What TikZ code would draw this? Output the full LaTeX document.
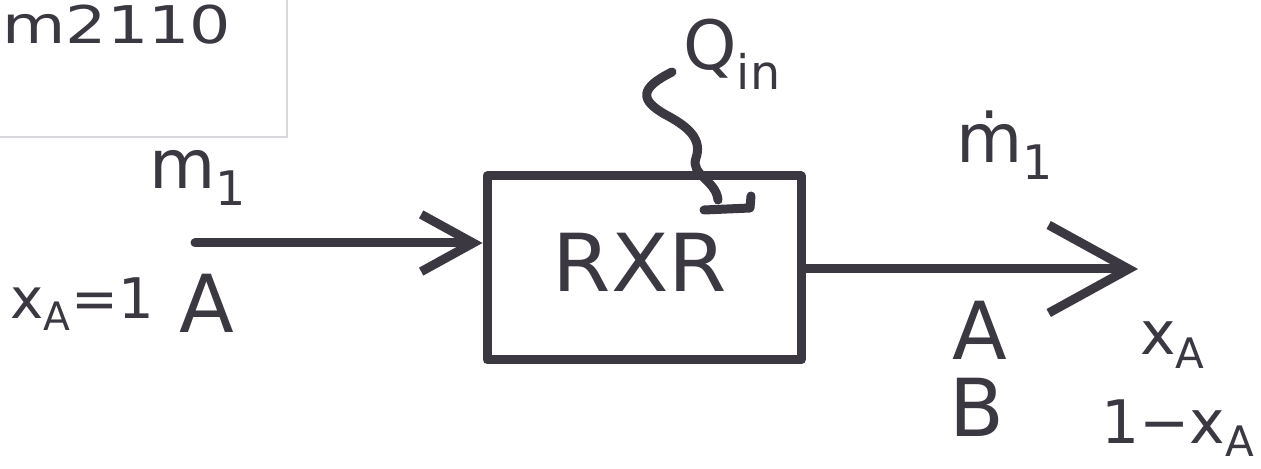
\documentclass[tikz,border=0pt]{standalone}
\usepackage{fontspec}
\setmainfont{DejaVu Sans}
\usetikzlibrary{arrows.meta}
\definecolor{ink}{HTML}{3B3842}
\definecolor{paper}{HTML}{D8D8DC}
\tikzset{
  marker/.style={draw=ink, line width=4.5pt, line cap=round, line join=round},
  flow/.style={marker, -{Straight Barb[length=#1, width=1.1*#1, line width=4.5pt]}},
  hand/.style={text=ink, inner sep=0pt, font=\fontsize{#1}{#1}\selectfont},
}
\begin{document}
\begin{tikzpicture}[x=0.5pt,y=-0.5pt]
\useasboundingbox (0,0) rectangle (1261,469);
% paper edge of the pasted note
\draw[paper, line width=0.6pt] (0,137) -- (287,137) -- (287,0);
\node[hand=26pt, xscale=1.25, anchor=west] (code) at (2,25) {m2110};
% reactor
\node[marker, minimum width=157pt, minimum height=92pt, inner sep=0pt] (rxr) at (644,268) {};
\node[hand=40pt, xscale=1.05] (rxrtxt) at (640,262) {RXR};
% inlet
\coordinate (in) at (195,243);
\draw[flow=26pt] (in) -- (in -| rxr.west);
\node[hand=34pt] (m1) at (198,178) {m\textsubscript{1}};
\node[hand=28pt] (xa1) at (82,304) {x\textsubscript{A}=1};
\node[hand=40pt] (Ain) at (207,303) {A};
% outlet
\coordinate (out) at (1138,269);
\draw[flow=40pt] (out -| rxr.east) -- (out);
\node[hand=34pt] (m1dot) at (1005,145) {ṁ\textsubscript{1}};
\node[hand=40pt] (Aout) at (980,330) {A};
\node[hand=40pt] (Bout) at (977,407) {B};
\node[hand=30pt] (xa) at (1173,345) {x\textsubscript{A}};
\node[hand=30pt] (onexa) at (1178,428) {1−x\textsubscript{A}};
% heat input
\node[hand=34pt, anchor=base west] (q) at (683,70) {Q\textsubscript{in}};
\coordinate (wstart) at (672,72);
\draw[marker] (wstart) .. controls (640,88) and (638,100) .. (668,116)
  .. controls (690,128) and (702,140) .. (696,158)
  .. controls (690,175) and (716,180) .. (718,200);
\coordinate (hook) at (704,210);
\draw[marker] (hook) -- (750,208) -- (751,196);
\end{tikzpicture}
\end{document}
